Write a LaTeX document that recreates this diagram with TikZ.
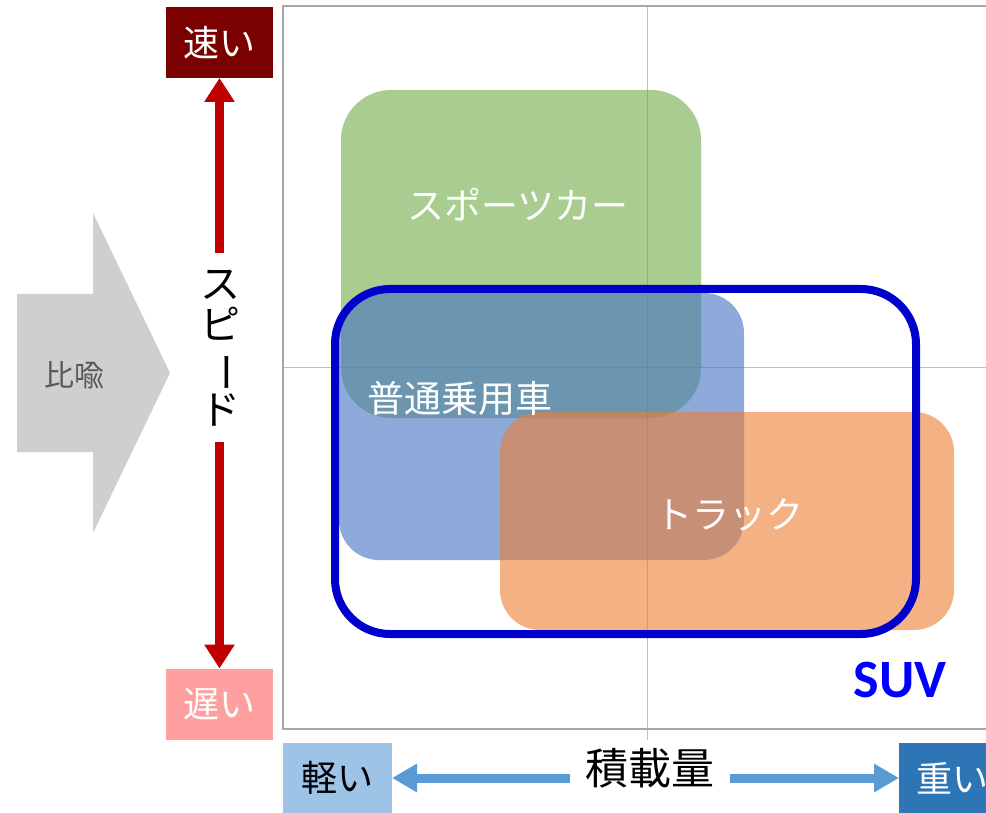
\documentclass[tikz,border=0pt]{standalone}
\usepackage{fontspec}
\newfontfamily\cjk{Noto Sans CJK JP}
\newfontfamily\suvfont{Carlito}
\usetikzlibrary{arrows.meta}
\definecolor{framec}{HTML}{A6A6A6}
\definecolor{gridc}{HTML}{BFBFBF}
\definecolor{greenc}{HTML}{70AD47}
\definecolor{bluec}{HTML}{4472C4}
\definecolor{orangec}{HTML}{ED7D31}
\definecolor{suvline}{HTML}{0000CC}
\definecolor{suvtext}{HTML}{0000FF}
\definecolor{fastc}{HTML}{7B0000}
\definecolor{slowc}{HTML}{FFA0A0}
\definecolor{lightc}{HTML}{9DC3E6}
\definecolor{heavyc}{HTML}{2E75B6}
\definecolor{arrowblue}{HTML}{5B9BD5}
\definecolor{arrowred}{HTML}{C00000}
\definecolor{grayarrow}{HTML}{D0CECE}
\definecolor{metatext}{HTML}{595959}
\begin{document}
\begin{tikzpicture}[x=1pt,y=-1pt,
  catbox/.style={fill opacity=0.6, rounded corners=#1, inner sep=0pt, outer sep=0pt},
  cattext/.style={text=white, inner sep=0pt, font=\cjk\fontsize{37}{40}\selectfont},
  endbox/.style={inner sep=0pt, outer sep=0pt, minimum width=107, minimum height=71, font=\cjk\fontsize{36}{40}\selectfont},
  redarrow/.style={draw=arrowred, line width=9, -{Triangle[width=29pt,length=24pt]}},
  bluearrow/.style={draw=arrowblue, line width=9, -{Triangle[width=27pt,length=25pt]}}]
\clip (0,0) rectangle (986,813);
\fill[white] (0,0) rectangle (986,813);
% grid and frame
\draw[gridc, line width=1] (647,6) -- (647,740);
\draw[gridc, line width=1] (283,367) -- (990,367);
\draw[framec, line width=1.5] (995,6) -- (283,6) -- (283,729) -- (995,729);
% category boxes
\node[catbox=50, fill=greenc, minimum width=360, minimum height=328] (sportsbox) at (521,254) {};
\node[catbox=40, fill=bluec, minimum width=405, minimum height=267] (carbox) at (541.5,426.5) {};
\node[catbox=40, fill=orangec, minimum width=454, minimum height=218] (truckbox) at (727,521) {};
% SUV outline
\node[draw=suvline, line width=8, rounded corners=55, minimum width=581, minimum height=345, inner sep=0pt] (suvbox) at (625.5,461.5) {};
\node[text=suvtext, inner sep=0pt, font=\suvfont\bfseries\fontsize{54}{60}\selectfont] (suvlabel) at (900,680) {SUV};
% category labels
\node[cattext] (sportslabel) at (518,205) {スポーツカー};
\node[cattext] (carlabel) at (460,398) {普通乗用車};
\node[cattext] (trucklabel) at (729,515) {トラック};
% speed axis
\node[endbox, fill=fastc, text=white] (fast) at (219.5,42.5) {速い};
\node[endbox, fill=slowc, text=white] (slow) at (219.5,704) {遅い};
\node[inner sep=0pt, align=center, font=\cjk\fontsize{40}{41.5}\selectfont] (speed) at (220,348)
  {ス\\ピ\\\rotatebox[origin=c]{-90}{ー}\\ド};
\coordinate (speedtop) at (219.5,253);
\coordinate (speedbot) at (219.5,442);
\draw[redarrow] (speedtop) -- (fast.south);
\draw[redarrow] (speedbot) -- (slow.north);
% load axis
\node[endbox, fill=lightc, text=black, minimum width=109] (light) at (337.5,778) {軽い};
\node[endbox, fill=heavyc, text=white] (heavy) at (952.5,778) {重い};
\node[inner sep=0pt, font=\cjk\fontsize{43}{46}\selectfont] (load) at (650,768) {積載量};
\coordinate (loadleft) at (570,778);
\coordinate (loadright) at (730,778);
\draw[bluearrow] (loadleft) -- (light.east);
\draw[bluearrow] (loadright) -- (heavy.west);
% metaphor arrow
\fill[grayarrow] (17,294) -- (93,294) -- (93,213) -- (170,373) -- (93,533) -- (93,452) -- (17,452) -- cycle;
\node[inner sep=0pt, text=metatext, font=\cjk\fontsize{30}{34}\selectfont] (meta) at (74,375) {比喩};
\end{tikzpicture}
\end{document}
